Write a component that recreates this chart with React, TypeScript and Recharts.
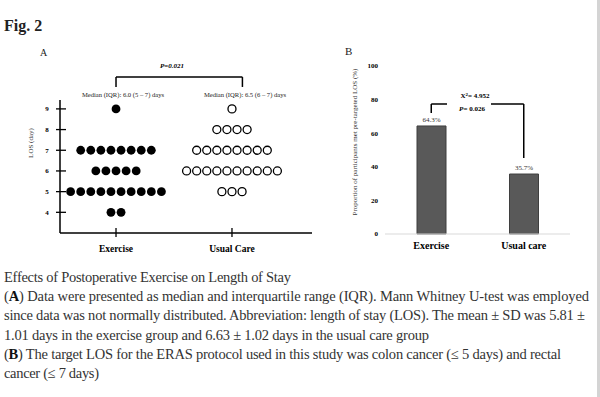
import React from "react";
import {
  ScatterChart,
  Scatter,
  BarChart,
  Bar,
  XAxis,
  YAxis,
  ReferenceLine,
  LabelList,
} from "recharts";

const FONT = "'Liberation Serif', 'Times New Roman', serif";

// Panel A: length of stay, one dot per patient
const groupNames = ["Exercise", "Usual Care"];
const losDays = [9, 8, 7, 6, 5, 4];
const exerciseCounts = [1, 0, 8, 5, 10, 2];
const usualCareCounts = [1, 4, 8, 10, 3, 0];
const losTicks = [4, 5, 6, 7, 8, 9];
const medianTexts = ["Median (IQR): 6.0 (5 – 7) days", "Median (IQR): 6.5 (6 – 7) days"];
const pValueA = "P=0.021";

// Panel B: proportion meeting target LOS
const targetGroups = ["Exercise", "Usual care"];
const targetMetPct = [64.3, 35.7];
const pctTicks = [0, 20, 40, 60, 80, 100];
const chiSquare = "4.952";
const pValueB = "0.026";

const captionLines = [
  { tag: "", text: "Effects of Postoperative Exercise on Length of Stay", len: 287 },
  { tag: "A", text: " Data were presented as median and interquartile range (IQR). Mann Whitney U-test was employed", len: 585 },
  { tag: "", text: "since data was not normally distributed. Abbreviation: length of stay (LOS). The mean ± SD was 5.81 ±", len: 581 },
  { tag: "", text: "1.01 days in the exercise group and 6.63 ± 1.02 days in the usual care group", len: 425 },
  { tag: "B", text: " The target LOS for the ERAS protocol used in this study was colon cancer (≤ 5 days) and rectal", len: 557 },
  { tag: "", text: "cancer (≤ 7 days)", len: 95 },
];

const DOT_STEP = 0.087; // horizontal spacing between stacked dots, in x units

function dotRows(counts: number[], group: number) {
  const pts: { x: number; y: number }[] = [];
  counts.forEach((n, i) => {
    for (let k = 0; k < n; k++) {
      pts.push({ x: group + 1 + (k - (n - 1) / 2) * DOT_STEP, y: losDays[i] });
    }
  });
  return pts;
}

const exerciseDots = dotRows(exerciseCounts, 0);
const usualCareDots = dotRows(usualCareCounts, 1);

const barData = targetGroups.map((g, i) => ({ group: g, pct: targetMetPct[i] }));

const XTickA = ({ x, y, payload }: any) => (
  <g>
    <line x1={x} x2={x} y1={y - 5} y2={y + 4} stroke="#000" strokeWidth={1.3} />
    <text x={x} y={y + 19} textAnchor="middle" fontWeight="bold" fontSize={9.5} fontFamily={FONT} fill="#000">
      {groupNames[payload.value - 1]}
    </text>
  </g>
);

const YTickA = ({ x, y, payload }: any) => (
  <g>
    <line x1={x - 4} x2={x + 6} y1={y} y2={y} stroke="#000" strokeWidth={1.3} />
    <text x={x - 13} y={y + 2.5} textAnchor="middle" fontWeight="bold" fontSize={7} fontFamily={FONT} fill="#000">
      {payload.value}
    </text>
  </g>
);

const XTickB = ({ x, y, payload }: any) => (
  <text x={x} y={y + 15} textAnchor="middle" fontWeight="bold" fontSize={10} fontFamily={FONT} fill="#000">
    {payload.value}
  </text>
);

const BRACKET_A = { left: 1, right: 2.09, top: 10.54, foot: 10.06 };
const BRACKET_B = { top: 77.4, leftFoot: 72, rightFoot: 45.2 };

export default function App() {
  return (
    <div style={{ position: "absolute", left: 0, top: 0, width: 600, height: 397, background: "#fff", overflow: "hidden" }}>
      <div style={{ position: "absolute", left: 0, top: 0 }}>
        <ScatterChart width={330} height={270} margin={{ top: 100, right: 18, bottom: 7, left: 30 }}>
          <XAxis
            type="number"
            dataKey="x"
            domain={[0.517, 2.69]}
            ticks={[1, 2]}
            interval={0}
            height={30}
            tickSize={0}
            tickMargin={0}
            tickLine={false}
            axisLine={{ stroke: "#000", strokeWidth: 1.5 }}
            tick={(p: any) => <XTickA {...p} />}
          />
          <YAxis
            type="number"
            dataKey="y"
            domain={[3, 9.43]}
            ticks={losTicks}
            interval={0}
            width={30}
            tickSize={0}
            tickMargin={0}
            tickLine={false}
            axisLine={{ stroke: "#000", strokeWidth: 1.5 }}
            tick={(p: any) => <YTickA {...p} />}
          />
          <ReferenceLine
            ifOverflow="visible"
            stroke="#000"
            strokeWidth={1.5}
            segment={[{ x: BRACKET_A.left, y: BRACKET_A.top }, { x: BRACKET_A.right, y: BRACKET_A.top }]}
          />
          <ReferenceLine
            ifOverflow="visible"
            stroke="#000"
            strokeWidth={1.5}
            segment={[{ x: BRACKET_A.left, y: BRACKET_A.top }, { x: BRACKET_A.left, y: BRACKET_A.foot }]}
          />
          <ReferenceLine
            ifOverflow="visible"
            stroke="#000"
            strokeWidth={1.5}
            segment={[{ x: BRACKET_A.right, y: BRACKET_A.top }, { x: BRACKET_A.right, y: BRACKET_A.foot }]}
          />
          <Scatter
            data={exerciseDots}
            isAnimationActive={false}
            shape={(p: any) => <circle cx={p.cx} cy={p.cy} r={4.4} fill="#000" />}
          />
          <Scatter
            data={usualCareDots}
            isAnimationActive={false}
            shape={(p: any) => <circle cx={p.cx} cy={p.cy} r={4} fill="#fff" stroke="#000" strokeWidth={1.3} />}
          />
        </ScatterChart>
      </div>

      <div style={{ position: "absolute", left: 330, top: 0 }}>
        <BarChart width={265} height={270} data={barData} margin={{ top: 66, right: 25, bottom: 6, left: 25 }}>
          <XAxis
            dataKey="group"
            height={30}
            tickSize={0}
            tickMargin={0}
            tickLine={false}
            axisLine={{ stroke: "#d9d9d9" }}
            tick={(p: any) => <XTickB {...p} />}
          />
          <YAxis
            type="number"
            domain={[0, 100]}
            ticks={pctTicks}
            interval={0}
            width={30}
            tickSize={0}
            tickMargin={7}
            axisLine={false}
            tickLine={false}
            tick={{ fontSize: 7, fontWeight: "bold", fill: "#000", fontFamily: FONT }}
          />
          <Bar dataKey="pct" barSize={29} fill="#595959" stroke="#3f3f3f" isAnimationActive={false}>
            <LabelList
              dataKey="pct"
              position="top"
              offset={4}
              formatter={(v: any) => `${v}%`}
              style={{ fontSize: 7, fill: "#333", fontFamily: FONT }}
            />
          </Bar>
          <ReferenceLine
            ifOverflow="visible"
            stroke="#000"
            strokeWidth={1.5}
            segment={[{ x: targetGroups[0], y: BRACKET_B.top }, { x: targetGroups[1], y: BRACKET_B.top }]}
          />
          <ReferenceLine
            ifOverflow="visible"
            stroke="#000"
            strokeWidth={1.5}
            segment={[{ x: targetGroups[0], y: BRACKET_B.top }, { x: targetGroups[0], y: BRACKET_B.leftFoot }]}
          />
          <ReferenceLine
            ifOverflow="visible"
            stroke="#000"
            strokeWidth={1.5}
            segment={[{ x: targetGroups[1], y: BRACKET_B.top }, { x: targetGroups[1], y: BRACKET_B.rightFoot }]}
          />
        </BarChart>
      </div>

      <svg width={600} height={397} style={{ position: "absolute", left: 0, top: 0, pointerEvents: "none" }} fontFamily={FONT}>
        <text x={4} y={31} fontSize={16} fontWeight="bold" fill="#222">Fig. 2</text>
        <text x={40} y={56} fontSize={10} fill="#222">A</text>
        <text x={345} y={55} fontSize={11} fill="#222">B</text>

        <text x={172} y={68} fontSize={7} fontWeight="bold" fontStyle="italic" textAnchor="middle" fill="#000">{pValueA}</text>
        <text x={123} y={97} fontSize={6.6} textAnchor="middle" fill="#222">{medianTexts[0]}</text>
        <text x={245} y={97} fontSize={6.6} textAnchor="middle" fill="#222">{medianTexts[1]}</text>
        <text x={33} y={143} fontSize={7} textAnchor="middle" fill="#333" transform="rotate(-90 33 143)">LOS (day)</text>

        <rect x={447} y={89} width={44} height={25} fill="#fff" />
        <text x={475} y={98} fontSize={7} fontWeight="bold" textAnchor="middle" fill="#000">
          X<tspan fontSize={5} dy={-2.5}>2</tspan><tspan dy={2.5}>= {chiSquare}</tspan>
        </text>
        <text x={472} y={111} fontSize={7} fontWeight="bold" textAnchor="middle" fill="#000">
          <tspan fontStyle="italic">P</tspan>= {pValueB}
        </text>
        <text x={357} y={142} fontSize={7} textAnchor="middle" fill="#333" transform="rotate(-90 357 142)">
          Proportion of participants met pre-targeted LOS (%)
        </text>

        {captionLines.map((l, i) => (
          <text key={i} x={4} y={282 + i * 19.2} fontSize={14.5} fill="#333" textLength={l.len} lengthAdjust="spacing">
            {l.tag ? (
              <>
                (<tspan fontWeight="bold" fill="#111">{l.tag}</tspan>)
              </>
            ) : null}
            {l.text}
          </text>
        ))}
      </svg>

      <div style={{ position: "absolute", left: 597, top: 0, width: 3, height: 397, background: "#d4d4d4" }} />
    </div>
  );
}
